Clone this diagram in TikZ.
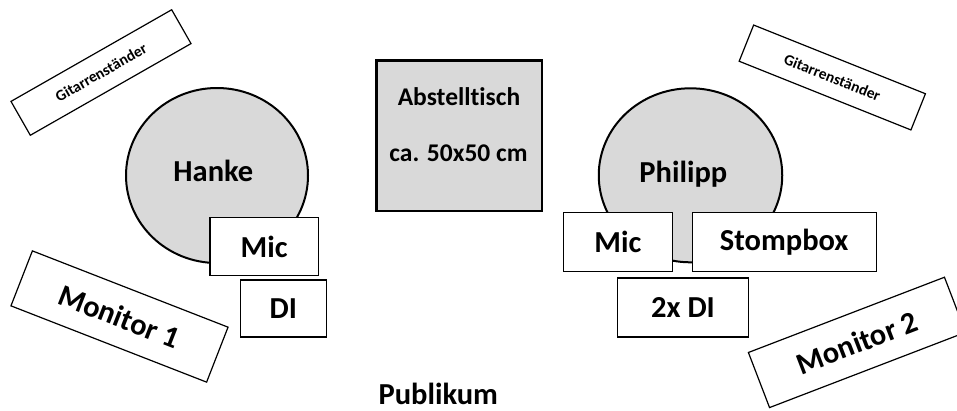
\documentclass[tikz,border=0pt]{standalone}
\usepackage{fontspec}
\setmainfont{Carlito}[Ligatures=NoCommon]
\usetikzlibrary{shapes.geometric}
\definecolor{persongray}{HTML}{D9D9D9}
\tikzset{
  big/.style={font=\bfseries\fontsize{30.5bp}{36bp}\selectfont},
  mid/.style={font=\bfseries\fontsize{25.5bp}{30bp}\selectfont},
  small/.style={font=\bfseries\fontsize{15.5bp}{18bp}\selectfont},
  box/.style={draw=black, line width=1.2bp, fill=white, inner sep=0pt, rectangle},
  person/.style={draw=black, line width=2bp, fill=persongray, ellipse, inner sep=0pt},
  tablebox/.style={draw=black, line width=2.5bp, fill=persongray, rectangle, inner sep=0pt},
  lbl/.style={inner sep=0pt, anchor=base},
}
\begin{document}
\begin{tikzpicture}[x=1bp,y=-1bp]
\clip (0,0) rectangle (957,410);
\fill[white] (0,0) rectangle (957,410);

% guitar stands
\node[box, small, minimum width=185bp, minimum height=39bp, rotate=29.7] (gstandL) at (101,72.5) {Gitarrenständer};
\node[box, small, minimum width=185bp, minimum height=39bp, rotate=-21.8] (gstandR) at (832.3,77.5) {Gitarrenständer};

% Hanke
\node[person, minimum width=182bp, minimum height=175bp] (hanke) at (217,175.5) {};
\node[big, lbl] (hankeL) at (213.4,181.7) {Hanke};
\node[box, big, minimum width=108.5bp, minimum height=58.5bp] (micL) at (264.2,246.6) {Mic};
\node[box, big, minimum width=86.5bp, minimum height=57bp] (diL) at (283.4,308.5) {DI};
\node[box, big, minimum width=210bp, minimum height=59bp, rotate=-21.3] (mon1) at (119.5,316.5) {Monitor 1};

% table
\node[tablebox, minimum width=165.5bp, minimum height=150.5bp] (tisch) at (459,135.5) {};
\node[mid, lbl] (tischA) at (459,105) {Abstelltisch};
\node[mid, lbl] (tischB) at (458.5,161.7) {ca. 50x50 cm};

% Philipp
\node[person, minimum width=183.5bp, minimum height=174bp] (philipp) at (690.5,175.3) {};
\node[big, lbl] (philippL) at (683.3,182.7) {Philipp};
\node[box, big, minimum width=109bp, minimum height=59bp] (micR) at (617.85,242) {Mic};
\node[box, big, minimum width=184bp, minimum height=59bp] (stomp) at (784.2,242) {Stompbox};
\node[box, big, minimum width=131.5bp, minimum height=59bp] (diR) at (683,307.5) {2x DI};
\node[box, big, minimum width=210bp, minimum height=59bp, rotate=21] (mon2) at (857,342.4) {Monitor 2};

% audience
\node[big, lbl] (publikum) at (438.3,404) {Publikum};
\end{tikzpicture}
\end{document}
